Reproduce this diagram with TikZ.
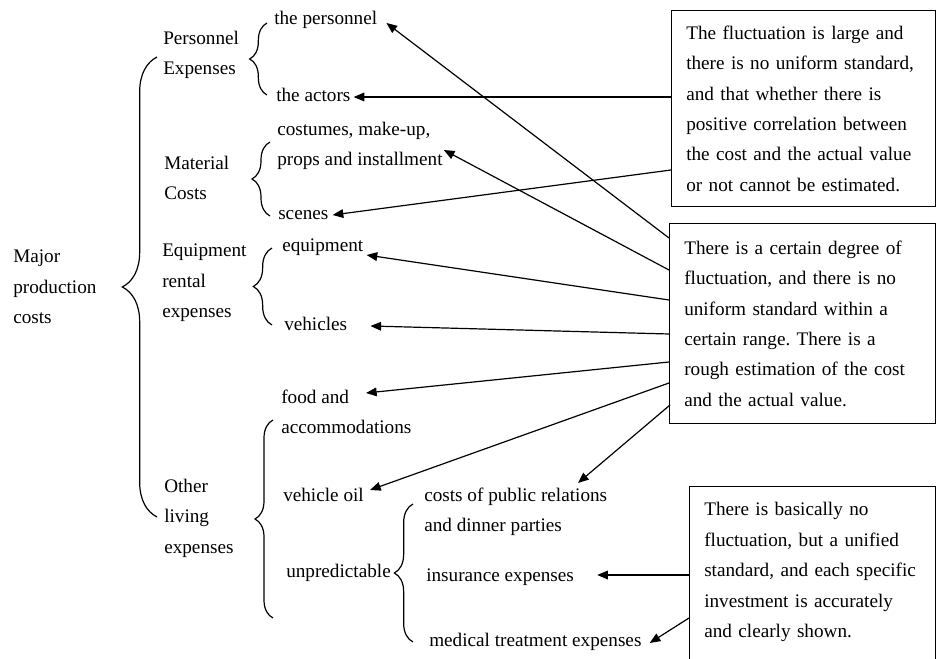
\documentclass[tikz,border=0pt]{standalone}
\usepackage{fontspec}
\setmainfont{Liberation Serif}
\usetikzlibrary{arrows.meta,decorations.pathreplacing}
\frenchspacing

\begin{document}
\begin{tikzpicture}
  [x=0.75pt,y=-0.75pt,
   every node/.style={font=\fontsize{14.4pt}{22.8pt}\selectfont},
   txt/.style={anchor=west,inner sep=0,align=left},
   box/.style={draw,anchor=north west,align=left,inner xsep=11pt,line width=0.9pt},
   arr/.style={line width=0.9pt,-{Triangle[length=8pt,width=6.5pt]}},
   brc/.style={line width=0.9pt,decorate,decoration={brace,amplitude=#1}}]

  \useasboundingbox (0,0) rectangle (936,659);
  \clip (0,0) rectangle (936,659);

  % comment boxes
  \node[box,text width=176pt,minimum width=198pt,minimum height=147pt] (box1) at (671,10)
    {The fluctuation is large and\\there is no uniform standard,\\and that whether there is\\positive correlation between\\the cost and the actual value\\or not cannot be estimated.};
  \node[box,text width=177.5pt,minimum width=199.5pt,minimum height=150pt] (box2) at (669,223)
    {There is a certain degree of\\fluctuation, and there is no\\uniform standard within a\\certain range. There is a\\rough estimation of the cost\\and the actual value.};
  \node[box,text width=162.5pt,minimum width=184.5pt,inner ysep=12pt,text depth=130pt] (box3) at (689,486)
    {There is basically no\\fluctuation, but a unified\\standard, and each specific\\investment is accurately\\and clearly shown.};

  % cost tree
  \node[txt] (major) at (13,287) {Major\\production\\costs};
  \node[txt] (pers) at (163,55) {Personnel\\Expenses};
  \node[txt] (mat) at (164,178) {Material\\Costs};
  \node[txt] (eqr) at (162,283) {Equipment\\rental\\expenses};
  \node[txt] (oth) at (164,518) {Other\\living\\expenses};

  \node[txt] (tpers) at (274,20) {the personnel};
  \node[txt] (tact) at (276,95) {the actors};
  \node[txt] (cost) at (277,146) {costumes, make-up,\\props and installment};
  \node[txt] (scn) at (278,215) {scenes};
  \node[txt] (eqp) at (282,247) {equipment};
  \node[txt] (veh) at (284,324) {vehicles};
  \node[txt] (food) at (281,412) {food and\\accommodations};
  \node[txt] (oil) at (283,495) {vehicle oil};
  \node[txt] (unp) at (286,573) {unpredictable};
  \node[txt] (pr) at (424,512) {costs of public relations\\and dinner parties};
  \node[txt] (ins) at (426,577) {insurance expenses};
  \node[txt] (med) at (429,642) {medical treatment expenses};

  % braces
  \draw[brc=26pt] (157,517) -- (157,57);
  \draw[brc=13pt] (267,95) -- (267,23);
  \draw[brc=13.5pt] (270,216) -- (270,142);
  \draw[brc=14pt] (272,325) -- (272,248);
  \draw[brc=13.5pt] (273,618) -- (273,420);
  \draw[brc=14pt] (413,642) -- (413,504);

  % arrows
  \draw[arr] ([shift={(0,87)}]box1.north west) -- ([shift={(3,2)}]tact.east);
  \draw[arr] ([shift={(0,160)}]box1.north west) -- ([shift={(4,0)}]scn.east);
  \draw[arr] ([shift={(0,15)}]box2.north west) -- ([shift={(9,3)}]tpers.east);
  \draw[arr] ([shift={(0,47)}]box2.north west) -- ([shift={(1,4)}]cost.east);
  \draw[arr] ([shift={(0,77)}]box2.north west) -- ([shift={(3,8)}]eqp.east);
  \draw[arr] ([shift={(0,111)}]box2.north west) -- ([shift={(23,2)}]veh.east);
  \draw[arr] ([shift={(0,139)}]box2.north west) -- ([shift={(85,-19)}]food.west);
  \draw[arr] ([shift={(0,160)}]box2.north west) -- ([shift={(6,-5)}]oil.east);
  \draw[arr] ([shift={(1,182)}]box2.north west) -- ([shift={(154,-29)}]pr.west);
  \draw[arr] ([shift={(0,89)}]box3.north west) -- ([shift={(23,-2)}]ins.east);
  \draw[arr] ([shift={(0,132)}]box3.north west) -- ([shift={(8,1)}]med.east);
\end{tikzpicture}
\end{document}
